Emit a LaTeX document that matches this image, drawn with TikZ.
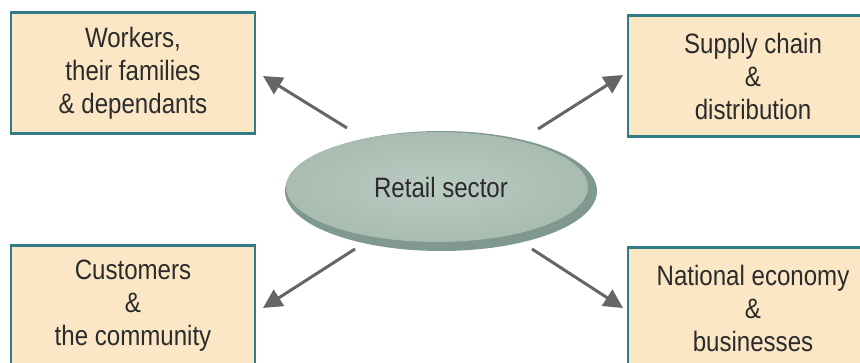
\documentclass[tikz,border=0pt]{standalone}
\usepackage{fontspec}
\setmainfont{Liberation Sans}[FakeStretch=0.86]
\usetikzlibrary{arrows.meta,shapes.geometric}
\definecolor{boxfill}{HTML}{FBE7C6}
\definecolor{boxline}{HTML}{2F7D87}
\definecolor{arrgray}{HTML}{666666}
\definecolor{txt}{HTML}{2B2B2B}
\definecolor{ellout}{HTML}{7F998E}
\definecolor{ellin}{HTML}{BACBC2}
\definecolor{ellrim}{HTML}{A8BCB2}
\tikzset{
  infobox/.style={draw=boxline, line width=2.5pt, fill=boxfill, text=txt,
    minimum width=244pt, minimum height=121pt, align=center,
    font=\fontsize{28}{33}\selectfont, inner sep=0pt},
  arr/.style={draw=arrgray, line width=3pt,
    -{Triangle[length=19pt,width=19pt]}},
  lbl/.style={text=txt, font=\fontsize{28}{33}\selectfont}
}
\begin{document}
\begin{tikzpicture}[x=1pt,y=-1pt]
\useasboundingbox (0,0) rectangle (860,363);
% boxes
\node[infobox] (w) at (133,73) {Workers,\\their families\\\& dependants};
\node[infobox, minimum width=250pt] (s) at (753,76) {Supply chain\\\&\\distribution};
\node[infobox] (c) at (133,306) {Customers\\\&\\the community};
\node[infobox, minimum width=250pt] (n) at (753,308) {National economy\\\&\\businesses};
% ellipse
\fill[ellout] (441,191) ellipse [x radius=156, y radius=60];
\shade[inner color=ellin, outer color=ellrim] (437,187) ellipse [x radius=151, y radius=55];
\node[lbl] (r) at (441,187) {Retail sector};
% arrow ends
\coordinate (t1) at (347,128); \coordinate (h1) at (263,76);
\coordinate (t2) at (538,129); \coordinate (h2) at (623,75);
\coordinate (t3) at (355,249); \coordinate (h3) at (263,308);
\coordinate (t4) at (532,249); \coordinate (h4) at (623,308);
\draw[arr] (t1) -- (h1);
\draw[arr] (t2) -- (h2);
\draw[arr] (t3) -- (h3);
\draw[arr] (t4) -- (h4);
\end{tikzpicture}
\end{document}
